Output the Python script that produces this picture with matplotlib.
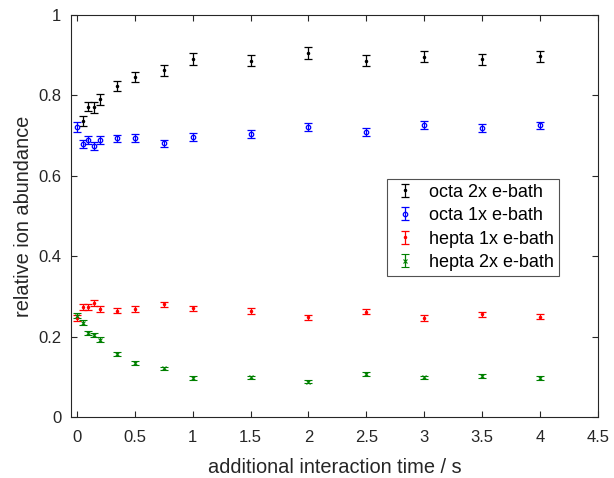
import numpy as np
import matplotlib
matplotlib.use("Agg")
import matplotlib.pyplot as plt
from matplotlib.container import ErrorbarContainer
from matplotlib.legend_handler import HandlerErrorbar

plt.rcParams['font.family'] = ['Liberation Sans', 'DejaVu Sans']

# ---------------------------
# Data
# ---------------------------
t = [0, 0.05, 0.1, 0.15, 0.2, 0.35, 0.5, 0.75, 1, 1.5, 2, 2.5, 3, 3.5, 4]
t_octa_2x = [0.05, 0.1, 0.15, 0.2, 0.35, 0.5, 0.75, 1, 1.5, 2, 2.5, 3, 3.5, 4]

octa_2x = [0.737, 0.772, 0.770, 0.790, 0.823, 0.846, 0.862, 0.890,
           0.886, 0.905, 0.886, 0.896, 0.890, 0.897]
octa_2x_err = [0.012, 0.012, 0.014, 0.014, 0.013, 0.013, 0.013, 0.015,
               0.014, 0.015, 0.014, 0.014, 0.014, 0.013]

octa_1x = [0.722, 0.679, 0.688, 0.674, 0.690, 0.693, 0.693, 0.681, 0.697,
           0.705, 0.721, 0.710, 0.726, 0.720, 0.726]
octa_1x_err = [0.012, 0.010, 0.010, 0.011, 0.010, 0.009, 0.010, 0.009, 0.010,
               0.010, 0.010, 0.010, 0.010, 0.010, 0.009]

hepta_1x = [0.246, 0.274, 0.274, 0.283, 0.268, 0.264, 0.269, 0.280, 0.270,
            0.264, 0.248, 0.262, 0.247, 0.255, 0.250]
hepta_1x_err = [0.007, 0.007, 0.007, 0.008, 0.007, 0.006, 0.007, 0.007, 0.007,
                0.007, 0.006, 0.007, 0.007, 0.007, 0.006]

hepta_2x = [0.252, 0.235, 0.208, 0.204, 0.192, 0.156, 0.135, 0.121, 0.097,
            0.099, 0.088, 0.107, 0.099, 0.102, 0.097]
hepta_2x_err = [0.006, 0.006, 0.005, 0.005, 0.006, 0.005, 0.005, 0.004, 0.004,
                0.004, 0.004, 0.004, 0.004, 0.004, 0.004]

# ---------------------------
# Plot
# ---------------------------
fig = plt.figure(figsize=(6.14, 4.78), dpi=100)
ax = fig.add_axes([0.1156, 0.1276, 0.8584, 0.8410])

common = dict(linestyle='none', capsize=2.6, elinewidth=0.9, capthick=0.9)
ax.errorbar(t_octa_2x, octa_2x, yerr=octa_2x_err, color='black', marker='.',
            markersize=3, label='octa 2x e-bath', **common)
ax.errorbar(t, octa_1x, yerr=octa_1x_err, color='#0000ff', marker='o',
            markersize=3.2, mfc='none', mew=0.9, label='octa 1x e-bath', **common)
ax.errorbar(t, hepta_1x, yerr=hepta_1x_err, color='#ff0000', marker='.',
            markersize=3, label='hepta 1x e-bath', **common)
ax.errorbar(t, hepta_2x, yerr=hepta_2x_err, color='#008000', marker='x',
            markersize=3, mew=0.8, label='hepta 2x e-bath', **common)

ax.set_xlim(-0.05, 4.5)
ax.set_ylim(0, 1)
ax.set_xticks(np.arange(0, 4.51, 0.5))
ax.set_xticklabels(['0', '0.5', '1', '1.5', '2', '2.5', '3', '3.5', '4', '4.5'])
ax.set_yticks([0, 0.2, 0.4, 0.6, 0.8, 1])
ax.set_yticklabels(['0', '0.2', '0.4', '0.6', '0.8', '1'])

axis_col = '#262626'
for s in ax.spines.values():
    s.set_color(axis_col)
    s.set_linewidth(0.8)
ax.tick_params(direction='in', top=True, right=True, length=4,
               color=axis_col, labelcolor=axis_col, labelsize=12)
ax.tick_params(axis='x', pad=9)
ax.tick_params(axis='y', pad=7)

ax.set_xlabel('additional interaction time / s', fontsize=14.4, color=axis_col,
              labelpad=10)
ax.set_ylabel('relative ion abundance', fontsize=14.4, color=axis_col)

leg = ax.legend(loc='upper left', bbox_to_anchor=(0.5996, 0.592), fontsize=13,
                frameon=True, fancybox=False, edgecolor=axis_col,
                handlelength=1.5, handletextpad=0.6, borderpad=0.25,
                labelspacing=0.36, borderaxespad=0,
                handler_map={ErrorbarContainer: HandlerErrorbar(xerr_size=0.36)})
leg.get_frame().set_linewidth(0.8)

fig.savefig('out.png', dpi=100)
